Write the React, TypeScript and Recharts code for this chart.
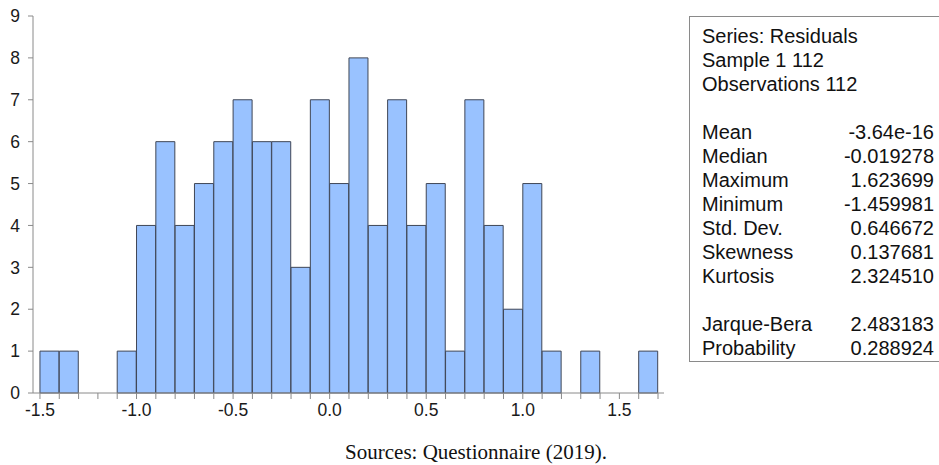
import { ComposedChart, Bar, XAxis, YAxis } from "recharts";

// bin centres (width 0.1) and counts of residuals
const binCenters = [
  -1.45, -1.35, -1.25, -1.15, -1.05, -0.95, -0.85, -0.75, -0.65, -0.55, -0.45,
  -0.35, -0.25, -0.15, -0.05, 0.05, 0.15, 0.25, 0.35, 0.45, 0.55, 0.65, 0.75,
  0.85, 0.95, 1.05, 1.15, 1.25, 1.35, 1.45, 1.55, 1.65,
];
const counts = [
  1, 1, 0, 0, 1, 4, 6, 4, 5, 6, 7, 6, 6, 3, 7, 5, 8, 4, 7, 4, 5, 1, 7, 4, 2, 5,
  1, 0, 1, 0, 0, 1,
];

const xTicks = [
  -1.5, -1.4, -1.3, -1.2, -1.1, -1.0, -0.9, -0.8, -0.7, -0.6, -0.5, -0.4, -0.3,
  -0.2, -0.1, 0.0, 0.1, 0.2, 0.3, 0.4, 0.5, 0.6, 0.7, 0.8, 0.9, 1.0, 1.1, 1.2,
  1.3, 1.4, 1.5, 1.6, 1.7,
];
const xLabels = [-1.5, -1.0, -0.5, 0.0, 0.5, 1.0, 1.5];
const yTicks = [0, 1, 2, 3, 4, 5, 6, 7, 8, 9];

const statsHeader = ["Series: Residuals", "Sample 1 112", "Observations 112"];
const statNames = ["Mean", "Median", "Maximum", "Minimum", "Std. Dev.", "Skewness", "Kurtosis"];
const statValues = ["-3.64e-16", "-0.019278", "1.623699", "-1.459981", "0.646672", "0.137681", "2.324510"];
const testNames = ["Jarque-Bera", "Probability"];
const testValues = ["2.483183", "0.288924"];

const data = binCenters.map((x, i) => ({ x, count: counts[i] }));

const AXIS = "#8a8a8a";
const FONT = "Arial, 'Liberation Sans', sans-serif";

const formatX = (v: number) =>
  xLabels.some((l) => Math.abs(l - v) < 1e-6) ? v.toFixed(1) : "";

const rowStyle: React.CSSProperties = {
  display: "flex",
  justifyContent: "space-between",
  height: 24,
  lineHeight: "24px",
  whiteSpace: "nowrap",
};

export default function App() {
  return (
    <div
      style={{
        position: "absolute",
        left: 0,
        top: 0,
        width: 939,
        height: 465,
        background: "#fff",
        overflow: "hidden",
      }}
    >
      <ComposedChart
        width={680}
        height={423}
        data={data}
        margin={{ top: 16, right: 16, left: 0, bottom: 0 }}
        barCategoryGap={0}
        barGap={0}
      >
        <XAxis
          dataKey="x"
          type="number"
          domain={[-1.536, 1.731]}
          ticks={xTicks}
          interval={0}
          tickFormatter={formatX}
          allowDataOverflow
          height={30}
          tickSize={6}
          tickMargin={5}
          stroke={AXIS}
          tick={{ fill: "#1a1a1a", fontSize: 17.5, fontFamily: FONT }}
        />
        <XAxis
          xAxisId="top"
          orientation="top"
          type="number"
          domain={[-1.536, 1.731]}
          allowDataOverflow
          height={0}
          tick={false}
          tickLine={false}
          stroke={AXIS}
        />
        <YAxis
          type="number"
          domain={[0, 9]}
          ticks={yTicks}
          interval={0}
          width={33}
          tickSize={5}
          tickMargin={8}
          stroke={AXIS}
          tick={{ fill: "#1a1a1a", fontSize: 17.5, fontFamily: FONT }}
        />
        <YAxis
          yAxisId="right"
          orientation="right"
          domain={[0, 9]}
          width={0}
          tick={false}
          tickLine={false}
          stroke={AXIS}
        />
        <Bar
          dataKey="count"
          fill="#99c2ff"
          stroke="#3f4656"
          strokeWidth={1}
          isAnimationActive={false}
        />
      </ComposedChart>

      <div
        style={{
          position: "absolute",
          left: 689,
          top: 16,
          width: 258,
          height: 346,
          boxSizing: "border-box",
          border: `1px solid ${AXIS}`,
          fontFamily: FONT,
          fontSize: 20,
          color: "#111",
          padding: "7px 0 0 12px",
        }}
      >
        <div style={{ width: 232 }}>
          {statsHeader.map((t) => (
            <div key={t} style={rowStyle}>
              {t}
            </div>
          ))}
          <div style={{ height: 24 }} />
          {statNames.map((n, i) => (
            <div key={n} style={rowStyle}>
              <span>{n}</span>
              <span>{statValues[i]}</span>
            </div>
          ))}
          <div style={{ height: 24 }} />
          {testNames.map((n, i) => (
            <div key={n} style={rowStyle}>
              <span>{n}</span>
              <span>{testValues[i]}</span>
            </div>
          ))}
        </div>
      </div>

      <div
        style={{
          position: "absolute",
          left: 0,
          width: 952,
          top: 440,
          textAlign: "center",
          fontFamily: "'Liberation Serif', 'Times New Roman', serif",
          fontSize: 21,
          color: "#111",
        }}
      >
        Sources: Questionnaire (2019).
      </div>
    </div>
  );
}
